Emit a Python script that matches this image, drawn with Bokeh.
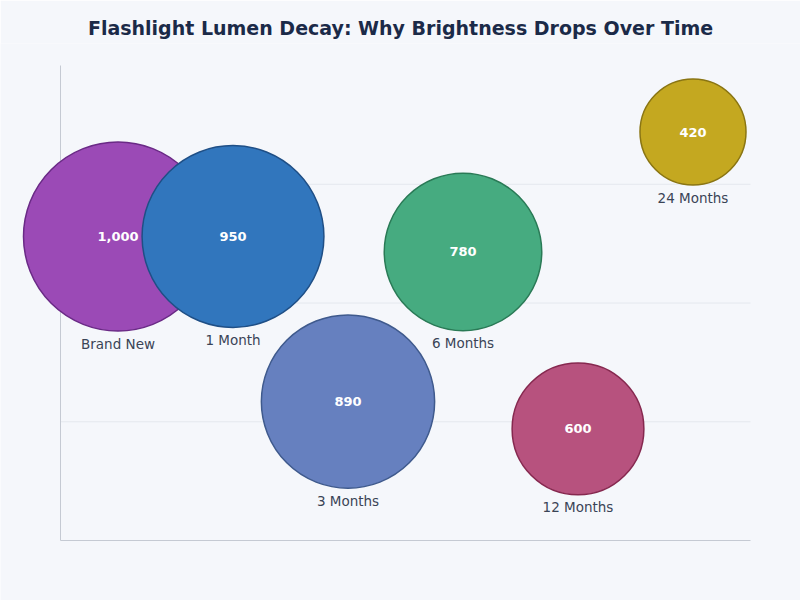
from bokeh.plotting import figure
from bokeh.models import ColumnDataSource, Range1d
from bokeh.core.properties import value
from bokeh.embed import file_html
from bokeh.resources import INLINE

# Lumen output at each age of the flashlight
stages = ["Brand New", "1 Month", "3 Months", "6 Months", "12 Months", "24 Months"]
lumens = [1000, 950, 890, 780, 600, 420]
# Vertical placement of each bubble (layout axis, no units)
y_pos = [2.56, 2.56, 1.17, 2.43, 0.94, 3.44]
x_pos = [0.5, 1.5, 2.5, 3.5, 4.5, 5.5]

# plotting extents of the chart area and its horizontal guide lines
X_MIN, X_MAX = 0, 6
Y_MIN, Y_MAX = 0, 4
grid_levels = [1, 2, 3]

fill_colors = ["#9b4ab6", "#3176bd", "#6680bf", "#46ab80", "#b7527e", "#c4a820"]
line_colors = ["#6a2a86", "#1f4f86", "#3f5a8d", "#2a7a56", "#86284f", "#8a7512"]

# bubble radius (px) scales linearly with lumens
R_MIN, R_MAX = 53.0, 94.5
lo, hi = min(lumens), max(lumens)
radii = [R_MIN + (v - lo) / (hi - lo) * (R_MAX - R_MIN) for v in lumens]

src = ColumnDataSource(dict(
    x=x_pos,
    y=y_pos,
    lumens=lumens,
    label=[f"{v:,}" for v in lumens],
    stage=stages,
    size=[2 * r for r in radii],
    name_off=[r + 12.5 for r in radii],
    fill=fill_colors,
    line=line_colors,
))

BG = "#f5f7fb"
FONT = "DejaVu Sans"

# the frame fills the canvas below the title so bubbles are never clipped;
# the chart area (0..6 x 0..4) sits at 60..750 px across and 65..540 px down
TOP = 43
px_x = 690 / (X_MAX - X_MIN)
px_y = 475 / (Y_MAX - Y_MIN)
xr = Range1d(X_MIN - 60 / px_x, X_MAX + 50 / px_x)
yr = Range1d(Y_MIN - 60 / px_y, Y_MAX + (65 - TOP) / px_y)

p = figure(
    width=800, height=600,
    output_backend="svg", toolbar_location=None,
    x_range=xr, y_range=yr,
    title="Flashlight Lumen Decay: Why Brightness Drops Over Time",
    min_border_left=0, min_border_right=0,
    min_border_top=TOP, min_border_bottom=0,
    background_fill_color=BG, border_fill_color=BG,
    outline_line_color=None,
)

p.title.align = "center"
p.title.text_font = FONT
p.title.text_font_size = "19px"
p.title.text_font_style = "bold"
p.title.text_color = "#1b2a48"

p.axis.visible = False
p.grid.visible = False

# horizontal guide lines
p.segment(x0=[X_MIN] * len(grid_levels), y0=grid_levels,
          x1=[X_MAX] * len(grid_levels), y1=grid_levels,
          line_color="#e4e8ee", line_width=1)

# axis lines
p.segment(x0=[X_MIN, X_MIN], y0=[Y_MIN, Y_MIN], x1=[X_MIN, X_MAX], y1=[Y_MAX, Y_MIN],
          line_color="#c5cad3", line_width=1)

p.scatter("x", "y", source=src, size="size", marker="circle",
          fill_color="fill", fill_alpha=1.0,
          line_color="line", line_width=1.5)

p.text("x", "y", text="label", source=src,
       text_font=value(FONT), text_font_size="13px", text_font_style="bold",
       text_color="white", text_align="center", text_baseline="middle")

p.text("x", "y", text="stage", source=src, y_offset="name_off",
       text_font=value(FONT), text_font_size="13.5px",
       text_color="#3a4456", text_align="center", text_baseline="middle")

open("out.html", "w").write(file_html(p, INLINE))
